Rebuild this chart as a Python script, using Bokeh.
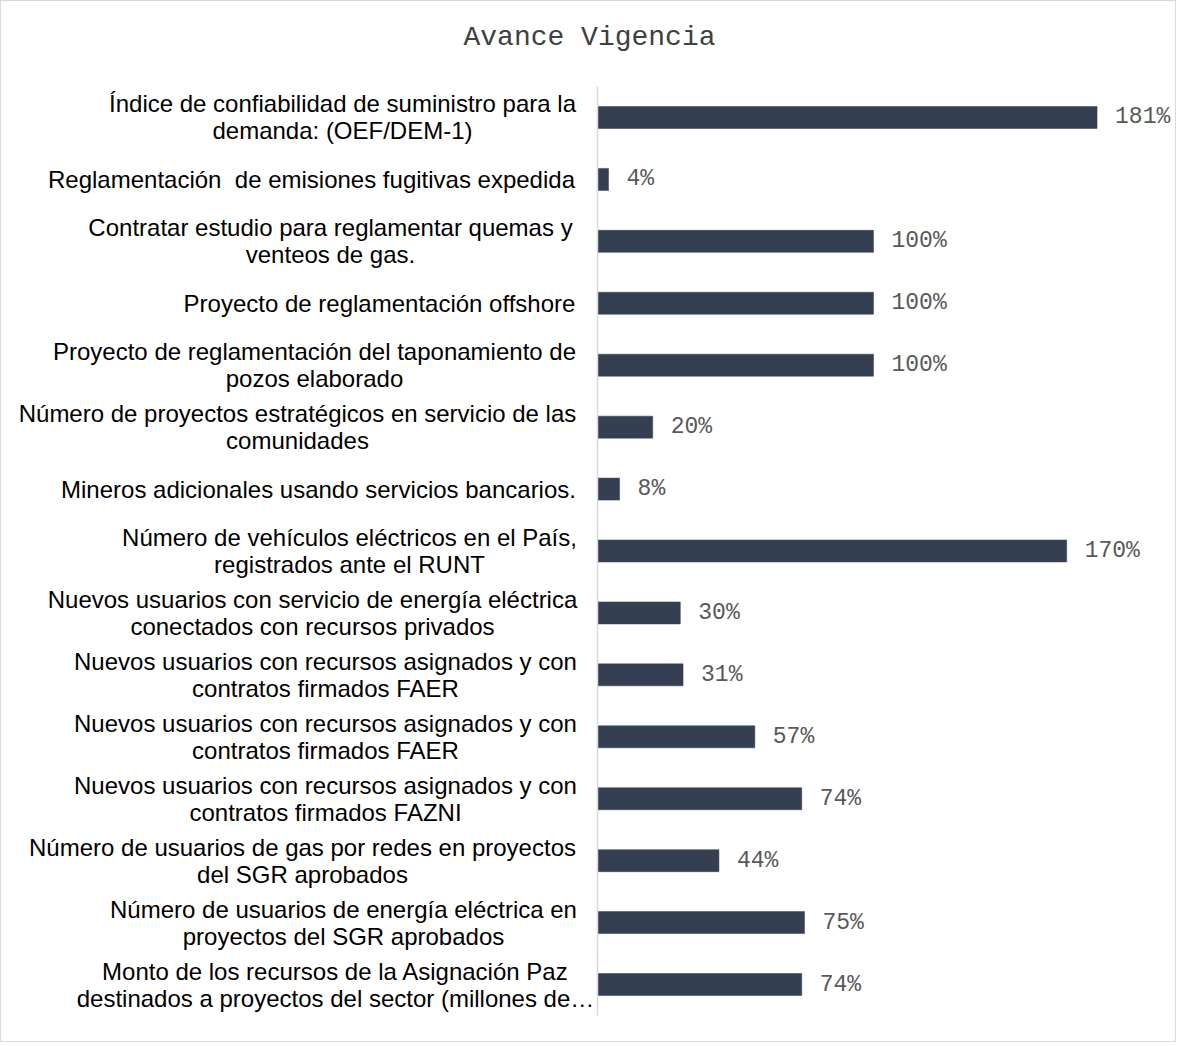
from bokeh.plotting import figure
from bokeh.models import ColumnDataSource, LabelSet, Label, Range1d
from bokeh.core.properties import value
from bokeh.embed import file_html
from bokeh.resources import INLINE

categories = [
    "Índice de confiabilidad de suministro para la\ndemanda: (OEF/DEM-1)",
    "Reglamentación\u00a0 de emisiones fugitivas expedida",
    "Contratar estudio para reglamentar quemas y\nventeos de gas.",
    "Proyecto de reglamentación offshore",
    "Proyecto de reglamentación del taponamiento de\npozos elaborado",
    "Número de proyectos estratégicos en servicio de las\ncomunidades",
    "Mineros adicionales usando servicios bancarios.",
    "Número de vehículos eléctricos en el País,\nregistrados ante el RUNT",
    "Nuevos usuarios con servicio de energía eléctrica\nconectados con recursos privados",
    "Nuevos usuarios con recursos asignados y con\ncontratos firmados FAER",
    "Nuevos usuarios con recursos asignados y con\ncontratos firmados FAER",
    "Nuevos usuarios con recursos asignados y con\ncontratos firmados FAZNI",
    "Número de usuarios de gas por redes en proyectos\ndel SGR aprobados",
    "Número de usuarios de energía eléctrica en\nproyectos del SGR aprobados",
    "Monto de los recursos de la Asignación Paz\ndestinados a proyectos del sector (millones de…",
]
avance = [181, 4, 100, 100, 100, 20, 8, 170, 30, 31, 57, 74, 44, 75, 74]
value_labels = [f"{v}%" for v in avance]
title_text = "Avance Vigencia"

# layout: page-x centres of the category label blocks
label_center_px = [343, 312, 331, 380, 315, 298, 319, 350, 313, 326, 326, 326, 303, 344, 336]

ORIGIN = 2           # page position of the figure content (measured)
W, H = 1176, 1042
AXIS_X = 598         # page x of the value axis (0 %)
PLOT_TOP, PLOT_BOTTOM = 87, 1016
LINE_PX = 27         # spacing of wrapped label lines
px_per_unit = 2.76
n = len(categories)
row_px = (PLOT_BOTTOM - PLOT_TOP) / n

x0 = -(AXIS_X - ORIGIN) / px_per_unit
x1 = (ORIGIN + W - AXIS_X) / px_per_unit
y_top = -0.5 - (PLOT_TOP - ORIGIN) / row_px
y_bot = n - 0.5 + (ORIGIN + H - PLOT_BOTTOM) / row_px

rows = list(range(n))

# one text entry per wrapped line, centred on its category's label centre
line_text, line_x, line_y = [], [], []
for i, cat in enumerate(categories):
    parts = cat.split("\n")
    k = len(parts)
    for j, part in enumerate(parts):
        line_text.append(part)
        line_x.append((label_center_px[i] - AXIS_X) / px_per_unit)
        line_y.append(i + (j - (k - 1) / 2) * LINE_PX / row_px)

p = figure(width=W, height=H, output_backend="svg", toolbar_location=None,
           x_axis_type=None, y_axis_type=None,
           x_range=Range1d(x0, x1), y_range=Range1d(y_bot, y_top),
           min_border_left=0, min_border_right=0, min_border_top=0, min_border_bottom=0)
p.outline_line_color = None
p.background_fill_color = "white"
p.border_fill_color = "white"
p.styles = {"border": "1px solid #D9D9D9"}

src = ColumnDataSource(dict(y=rows, v=avance, vl=value_labels))
lsrc = ColumnDataSource(dict(x=line_x, y=line_y, t=line_text))

p.hbar(y="y", left=0, right="v", height=0.355, source=src,
       fill_color="#343F51", line_color="#343F51", line_width=0.5)

# value axis line
p.segment(x0=[0], y0=[-0.5], x1=[0], y1=[n - 0.5], line_color="#D9D9D9", line_width=1.5)

p.add_layout(LabelSet(x="v", y="y", text="vl", source=src, x_offset=18,
                      text_align="left", text_baseline="middle",
                      text_font=value("Liberation Mono"), text_font_size=value("23px"),
                      text_color="#595959"))

p.text(x="x", y="y", text="t", source=lsrc, text_align="center", text_baseline="middle",
       text_font=value("Liberation Sans"), text_font_size=value("24px"), text_color="#000000")

title_x = (590 - AXIS_X) / px_per_unit
title_y = -0.5 - (PLOT_TOP - 38) / row_px
p.add_layout(Label(x=title_x, y=title_y, text=title_text, text_align="center",
                   text_baseline="middle", text_font="Liberation Mono",
                   text_font_size="28px", text_color="#404040"))

open("out.html", "w").write(file_html(p, INLINE))
